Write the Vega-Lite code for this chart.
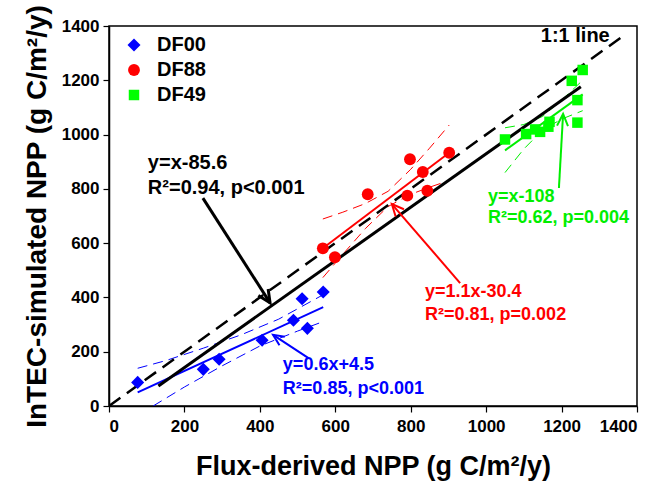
{
  "$schema": "https://vega.github.io/schema/vega-lite/v6.json",
  "width": 528,
  "height": 380,
  "autosize": {"type": "none"},
  "padding": {"left": 109, "top": 26, "right": 23, "bottom": 81},
  "background": "white",
  "config": {
    "view": {"stroke": "#000000", "strokeWidth": 1.5},
    "font": "Liberation Sans",
    "axis": {
      "grid": false,
      "domainColor": "#000000",
      "domainWidth": 1.5,
      "tickColor": "#000000",
      "tickWidth": 1.2,
      "tickSize": 6,
      "labelFont": "Liberation Sans",
      "labelFontWeight": "bold",
      "labelFontSize": 17,
      "labelColor": "#000000",
      "titleFont": "Liberation Sans",
      "titleFontWeight": "bold",
      "titleFontSize": 27,
      "titleColor": "#000000"
    },
    "legend": {
      "labelFont": "Liberation Sans",
      "labelFontWeight": "bold",
      "labelFontSize": 20,
      "labelColor": "#000000"
    }
  },
  "datasets": {
    "points": [
      {"group": "DF00", "x": 76, "y": 87},
      {"group": "DF00", "x": 250, "y": 135},
      {"group": "DF00", "x": 292, "y": 172},
      {"group": "DF00", "x": 406, "y": 242},
      {"group": "DF00", "x": 489, "y": 316},
      {"group": "DF00", "x": 512, "y": 395},
      {"group": "DF00", "x": 526, "y": 286},
      {"group": "DF00", "x": 568, "y": 420},
      {"group": "DF88", "x": 567, "y": 581},
      {"group": "DF88", "x": 599, "y": 548},
      {"group": "DF88", "x": 686, "y": 780},
      {"group": "DF88", "x": 798, "y": 909},
      {"group": "DF88", "x": 791, "y": 775},
      {"group": "DF88", "x": 832, "y": 862},
      {"group": "DF88", "x": 844, "y": 793},
      {"group": "DF88", "x": 902, "y": 933},
      {"group": "DF49", "x": 1050, "y": 982},
      {"group": "DF49", "x": 1106, "y": 1002},
      {"group": "DF49", "x": 1130, "y": 1019},
      {"group": "DF49", "x": 1143, "y": 1010},
      {"group": "DF49", "x": 1168, "y": 1047},
      {"group": "DF49", "x": 1165, "y": 1029},
      {"group": "DF49", "x": 1227, "y": 1198},
      {"group": "DF49", "x": 1242, "y": 1127},
      {"group": "DF49", "x": 1242, "y": 1044},
      {"group": "DF49", "x": 1256, "y": 1238}
    ],
    "lines": [
      {"line": "oneone", "group": "all", "kind": "oneone", "ord": 1, "x": 0, "y": 0},
      {"line": "oneone", "group": "all", "kind": "oneone", "ord": 2, "x": 1370, "y": 1370},
      {"line": "allfit", "group": "all", "kind": "bfit", "ord": 1, "x": 131, "y": 74},
      {"line": "allfit", "group": "all", "kind": "bfit", "ord": 2, "x": 1251, "y": 1176},
      {"line": "f00", "group": "DF00", "kind": "fit", "ord": 1, "x": 76, "y": 50},
      {"line": "f00", "group": "DF00", "kind": "fit", "ord": 2, "x": 568, "y": 364},
      {"line": "u00", "group": "DF00", "kind": "band", "ord": 1, "x": 76, "y": 139},
      {"line": "u00", "group": "DF00", "kind": "band", "ord": 2, "x": 150, "y": 167},
      {"line": "u00", "group": "DF00", "kind": "band", "ord": 3, "x": 250, "y": 213},
      {"line": "u00", "group": "DF00", "kind": "band", "ord": 4, "x": 350, "y": 262},
      {"line": "u00", "group": "DF00", "kind": "band", "ord": 5, "x": 450, "y": 320},
      {"line": "u00", "group": "DF00", "kind": "band", "ord": 6, "x": 568, "y": 410},
      {"line": "l00", "group": "DF00", "kind": "band", "ord": 1, "x": 117, "y": 0},
      {"line": "l00", "group": "DF00", "kind": "band", "ord": 2, "x": 200, "y": 70},
      {"line": "l00", "group": "DF00", "kind": "band", "ord": 3, "x": 300, "y": 148},
      {"line": "l00", "group": "DF00", "kind": "band", "ord": 4, "x": 400, "y": 221},
      {"line": "l00", "group": "DF00", "kind": "band", "ord": 5, "x": 500, "y": 276},
      {"line": "l00", "group": "DF00", "kind": "band", "ord": 6, "x": 568, "y": 311},
      {"line": "f88", "group": "DF88", "kind": "fit", "ord": 1, "x": 567, "y": 581},
      {"line": "f88", "group": "DF88", "kind": "fit", "ord": 2, "x": 902, "y": 933},
      {"line": "u88", "group": "DF88", "kind": "band", "ord": 1, "x": 567, "y": 689},
      {"line": "u88", "group": "DF88", "kind": "band", "ord": 2, "x": 620, "y": 714},
      {"line": "u88", "group": "DF88", "kind": "band", "ord": 3, "x": 680, "y": 746},
      {"line": "u88", "group": "DF88", "kind": "band", "ord": 4, "x": 740, "y": 791},
      {"line": "u88", "group": "DF88", "kind": "band", "ord": 5, "x": 800, "y": 872},
      {"line": "u88", "group": "DF88", "kind": "band", "ord": 6, "x": 850, "y": 950},
      {"line": "u88", "group": "DF88", "kind": "band", "ord": 7, "x": 902, "y": 1035},
      {"line": "l88", "group": "DF88", "kind": "band", "ord": 1, "x": 567, "y": 473},
      {"line": "l88", "group": "DF88", "kind": "band", "ord": 2, "x": 620, "y": 559},
      {"line": "l88", "group": "DF88", "kind": "band", "ord": 3, "x": 680, "y": 654},
      {"line": "l88", "group": "DF88", "kind": "band", "ord": 4, "x": 740, "y": 735},
      {"line": "l88", "group": "DF88", "kind": "band", "ord": 5, "x": 800, "y": 780},
      {"line": "l88", "group": "DF88", "kind": "band", "ord": 6, "x": 850, "y": 806},
      {"line": "l88", "group": "DF88", "kind": "band", "ord": 7, "x": 902, "y": 831},
      {"line": "f49", "group": "DF49", "kind": "fit", "ord": 1, "x": 1050, "y": 942},
      {"line": "f49", "group": "DF49", "kind": "fit", "ord": 2, "x": 1256, "y": 1148},
      {"line": "u49", "group": "DF49", "kind": "band", "ord": 1, "x": 1050, "y": 1025},
      {"line": "u49", "group": "DF49", "kind": "band", "ord": 2, "x": 1100, "y": 1037},
      {"line": "u49", "group": "DF49", "kind": "band", "ord": 3, "x": 1150, "y": 1067},
      {"line": "u49", "group": "DF49", "kind": "band", "ord": 4, "x": 1200, "y": 1127},
      {"line": "u49", "group": "DF49", "kind": "band", "ord": 5, "x": 1256, "y": 1200},
      {"line": "l49", "group": "DF49", "kind": "band", "ord": 1, "x": 1050, "y": 860},
      {"line": "l49", "group": "DF49", "kind": "band", "ord": 2, "x": 1100, "y": 947},
      {"line": "l49", "group": "DF49", "kind": "band", "ord": 3, "x": 1150, "y": 1017},
      {"line": "l49", "group": "DF49", "kind": "band", "ord": 4, "x": 1200, "y": 1057},
      {"line": "l49", "group": "DF49", "kind": "band", "ord": 5, "x": 1256, "y": 1088},
      {"line": "a_all", "group": "all", "kind": "barrow", "ord": 1, "x": 249, "y": 766},
      {"line": "a_all", "group": "all", "kind": "barrow", "ord": 2, "x": 427, "y": 380},
      {"line": "h_all", "group": "all", "kind": "barrow", "ord": 1, "x": 422, "y": 431},
      {"line": "h_all", "group": "all", "kind": "barrow", "ord": 2, "x": 427, "y": 380},
      {"line": "h_all", "group": "all", "kind": "barrow", "ord": 3, "x": 396, "y": 407},
      {"line": "a00", "group": "DF00", "kind": "arrow", "ord": 1, "x": 528, "y": 177},
      {"line": "a00", "group": "DF00", "kind": "arrow", "ord": 2, "x": 435, "y": 262},
      {"line": "h00", "group": "DF00", "kind": "arrow", "ord": 1, "x": 452, "y": 224},
      {"line": "h00", "group": "DF00", "kind": "arrow", "ord": 2, "x": 435, "y": 262},
      {"line": "h00", "group": "DF00", "kind": "arrow", "ord": 3, "x": 466, "y": 255},
      {"line": "a88", "group": "DF88", "kind": "arrow", "ord": 1, "x": 931, "y": 453},
      {"line": "a88", "group": "DF88", "kind": "arrow", "ord": 2, "x": 750, "y": 744},
      {"line": "h88", "group": "DF88", "kind": "arrow", "ord": 1, "x": 760, "y": 698},
      {"line": "h88", "group": "DF88", "kind": "arrow", "ord": 2, "x": 750, "y": 744},
      {"line": "h88", "group": "DF88", "kind": "arrow", "ord": 3, "x": 782, "y": 725},
      {"line": "a49", "group": "DF49", "kind": "arrow", "ord": 1, "x": 1193, "y": 803},
      {"line": "a49", "group": "DF49", "kind": "arrow", "ord": 2, "x": 1204, "y": 1076},
      {"line": "h49", "group": "DF49", "kind": "arrow", "ord": 1, "x": 1188, "y": 1033},
      {"line": "h49", "group": "DF49", "kind": "arrow", "ord": 2, "x": 1204, "y": 1076},
      {"line": "h49", "group": "DF49", "kind": "arrow", "ord": 3, "x": 1217, "y": 1031}
    ],
    "labels": [
      {"group": "all", "size": "big", "x": 103, "y": 895, "text": "y=x-85.6"},
      {"group": "all", "size": "big", "x": 103, "y": 803, "text": "R²=0.94, p<0.001"},
      {"group": "all", "size": "big", "x": 1145, "y": 1363, "text": "1:1 line"},
      {"group": "DF00", "size": "normal", "x": 461, "y": 150, "text": "y=0.6x+4.5"},
      {"group": "DF00", "size": "normal", "x": 461, "y": 63, "text": "R²=0.85, p<0.001"},
      {"group": "DF88", "size": "normal", "x": 838, "y": 420, "text": "y=1.1x-30.4"},
      {"group": "DF88", "size": "normal", "x": 838, "y": 335, "text": "R²=0.81, p=0.002"},
      {"group": "DF49", "size": "normal", "x": 1005, "y": 770, "text": "y=x-108"},
      {"group": "DF49", "size": "normal", "x": 1005, "y": 693, "text": "R²=0.62, p=0.004"}
    ]
  },
  "encoding": {
    "x": {
      "field": "x", "type": "quantitative",
      "scale": {"domain": [0, 1400], "nice": false},
      "axis": {"values": [0, 200, 400, 600, 800, 1000, 1200, 1400], "format": "d", "labelPadding": 6, "titlePadding": 19},
      "title": "Flux-derived NPP (g C/m²/y)"
    },
    "y": {
      "field": "y", "type": "quantitative",
      "scale": {"domain": [0, 1400], "nice": false},
      "axis": {"values": [0, 200, 400, 600, 800, 1000, 1200, 1400], "format": "d", "labelPadding": 4, "titlePadding": 10, "titleFontSize": 28},
      "title": "InTEC-simulated NPP (g C/m²/y)"
    }
  },
  "layer": [
    {
      "data": {"name": "lines"},
      "transform": [{"filter": "datum.kind == 'band'"}],
      "mark": {"type": "line", "clip": true, "strokeWidth": 1, "strokeDash": [10, 6]},
      "encoding": {
        "detail": {"field": "line"}, "order": {"field": "ord", "type": "quantitative"},
        "color": {"field": "group", "type": "nominal", "legend": null, "scale": {"domain": ["DF00", "DF88", "DF49", "all"], "range": ["#0000ff", "#ff0000", "#00ee00", "#000000"]}}
      }
    },
    {
      "data": {"name": "lines"},
      "transform": [{"filter": "datum.kind == 'fit'"}],
      "mark": {"type": "line", "clip": true, "strokeWidth": 2},
      "encoding": {
        "detail": {"field": "line"}, "order": {"field": "ord", "type": "quantitative"},
        "color": {"field": "group", "type": "nominal", "legend": null, "scale": {"domain": ["DF00", "DF88", "DF49", "all"], "range": ["#0000ff", "#ff0000", "#00ee00", "#000000"]}}
      }
    },
    {
      "data": {"name": "lines"},
      "transform": [{"filter": "datum.kind == 'oneone'"}],
      "mark": {"type": "line", "clip": true, "strokeWidth": 2.5, "strokeDash": [14, 8], "color": "#000000"},
      "encoding": {"detail": {"field": "line"}, "order": {"field": "ord", "type": "quantitative"}}
    },
    {
      "data": {"name": "lines"},
      "transform": [{"filter": "datum.kind == 'bfit'"}],
      "mark": {"type": "line", "clip": true, "strokeWidth": 3, "color": "#000000"},
      "encoding": {"detail": {"field": "line"}, "order": {"field": "ord", "type": "quantitative"}}
    },
    {
      "data": {"name": "lines"},
      "transform": [{"filter": "datum.kind == 'arrow'"}],
      "mark": {"type": "line", "clip": true, "strokeWidth": 2},
      "encoding": {
        "detail": {"field": "line"}, "order": {"field": "ord", "type": "quantitative"},
        "color": {"field": "group", "type": "nominal", "legend": null, "scale": {"domain": ["DF00", "DF88", "DF49", "all"], "range": ["#0000ff", "#ff0000", "#00ee00", "#000000"]}}
      }
    },
    {
      "data": {"name": "lines"},
      "transform": [{"filter": "datum.kind == 'barrow'"}],
      "mark": {"type": "line", "clip": true, "strokeWidth": 3, "color": "#000000"},
      "encoding": {"detail": {"field": "line"}, "order": {"field": "ord", "type": "quantitative"}}
    },
    {
      "data": {"name": "points"},
      "mark": {"type": "point", "filled": true, "opacity": 1, "strokeWidth": 0},
      "encoding": {
        "fill": {
          "field": "group", "type": "nominal",
          "scale": {"domain": ["DF00", "DF88", "DF49"], "range": ["#0000ff", "#ff0000", "#00ff00"]},
          "legend": {
            "title": null, "orient": "none", "legendX": 15, "legendY": 9,
            "labelOffset": 13, "rowPadding": 5, "symbolOpacity": 1, "symbolStrokeWidth": 0
          }
        },
        "shape": {
          "field": "group", "type": "nominal",
          "scale": {"domain": ["DF00", "DF88", "DF49"], "range": ["diamond", "circle", "square"]},
          "legend": {
            "title": null, "orient": "none", "legendX": 15, "legendY": 9,
            "labelOffset": 13, "rowPadding": 5, "symbolOpacity": 1, "symbolStrokeWidth": 0
          }
        },
        "size": {
          "field": "group", "type": "nominal",
          "scale": {"type": "point", "domain": ["DF00", "DF88", "DF49"], "range": [170, 110]},
          "legend": {
            "title": null, "orient": "none", "legendX": 15, "legendY": 9,
            "labelOffset": 13, "rowPadding": 5, "symbolOpacity": 1, "symbolStrokeWidth": 0
          }
        }
      }
    },
    {
      "data": {"name": "labels"},
      "transform": [{"filter": "datum.size == 'normal'"}],
      "mark": {"type": "text", "align": "left", "baseline": "middle", "fontWeight": "bold", "fontSize": 18, "font": "Liberation Sans"},
      "encoding": {
        "text": {"field": "text"},
        "color": {"field": "group", "type": "nominal", "legend": null, "scale": {"domain": ["DF00", "DF88", "DF49", "all"], "range": ["#0000ff", "#ff0000", "#00ee00", "#000000"]}}
      }
    },
    {
      "data": {"name": "labels"},
      "transform": [{"filter": "datum.size == 'big'"}],
      "mark": {"type": "text", "align": "left", "baseline": "middle", "fontWeight": "bold", "fontSize": 20, "font": "Liberation Sans", "color": "#000000"},
      "encoding": {"text": {"field": "text"}}
    }
  ]
}
